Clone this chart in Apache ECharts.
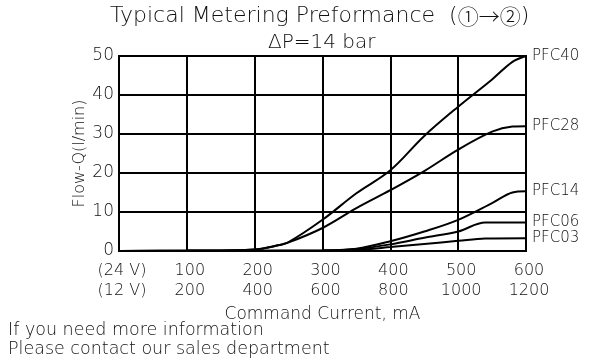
<!DOCTYPE html>
<html><head><meta charset="utf-8">
<script src="https://cdn.jsdelivr.net/npm/echarts@6/dist/echarts.min.js"></script>
<style>html,body{margin:0;padding:0;background:#fff}#c{width:600px;height:363px}</style>
</head><body><div id="c"></div>
<script>
var seriesNames = ['PFC40','PFC28','PFC14','PFC06','PFC03'];
var pfc40 = [[0,0],[100,0.1],[200,0.4],[230,1.3],[250,2.3],[300,8],[350,14.8],[400,20.7],[450,29.5],[500,37],[550,44],[580,48.5],[600,50]];
var pfc28 = [[0,0],[100,0.1],[200,0.4],[230,1.3],[250,2.2],[300,5.9],[350,11],[400,15.6],[450,20.5],[500,26],[550,30.6],[580,31.9],[600,32]];
var pfc14 = [[0,0],[300,0.1],[350,0.6],[400,2.5],[450,5],[500,8],[550,12.3],[580,15],[600,15.3]];
var pfc06 = [[0,0],[300,0.1],[350,0.5],[400,1.7],[450,3.4],[500,5],[540,7.3],[600,7.3]];
var pfc03 = [[0,0],[300,0.1],[350,0.3],[400,1],[450,1.8],[500,2.6],[540,3.2],[600,3.3]];
var xTicks24 = ['(24 V)','100','200','300','400','500','600'];
var xTicks12 = ['(12 V)','200','400','600','800','1000','1200'];
var yTicks = [0,10,20,30,40,50];

var FONT = '"DejaVu Sans"';
var W = 300;
var TXT = '#111';
var allData = [pfc40,pfc28,pfc14,pfc06,pfc03];
var chart = echarts.init(document.getElementById('c'));
chart.setOption({
  animation:false,
  textStyle:{fontFamily:FONT},
  grid:{left:119,right:74,top:56,bottom:112,show:true,borderColor:'#000',borderWidth:2,backgroundColor:'transparent'},
  xAxis:{type:'value',min:0,max:600,interval:100,
    axisLine:{show:true,lineStyle:{color:'#000',width:2}},
    axisTick:{show:false},
    splitLine:{show:true,lineStyle:{color:'#000',width:2}},
    axisLabel:{color:TXT,fontSize:16,fontFamily:FONT,fontWeight:W,lineHeight:20,margin:10,padding:[0,0,0,6],
      formatter:function(v){var i=Math.round(v/100);return xTicks24[i]+'\n'+xTicks12[i];}},
    name:'Command Current, mA',nameLocation:'middle',nameGap:45,
    nameTextStyle:{color:TXT,fontSize:17,fontFamily:FONT,fontWeight:W}
  },
  yAxis:{type:'value',min:0,max:50,interval:10,
    axisLine:{show:true,lineStyle:{color:'#000',width:2}},
    axisTick:{show:false},
    splitLine:{show:true,lineStyle:{color:'#000',width:2}},
    axisLabel:{color:TXT,fontSize:17,fontFamily:FONT,fontWeight:W,margin:5,
      formatter:function(v){return yTicks.indexOf(v)>=0?String(v):'';}},
    name:'Flow-Q(l/min)',nameLocation:'middle',nameGap:31,nameMoveOverlap:false,
    nameTextStyle:{color:TXT,fontSize:16,fontFamily:FONT,fontWeight:W}
  },
  series: seriesNames.map(function(n,i){
    return {name:n,type:'line',data:allData[i],smooth:0.35,showSymbol:false,symbol:'none',
      lineStyle:{color:'#000',width:2},
      endLabel:{show:true,formatter:'{a}',color:TXT,fontSize:15,fontFamily:FONT,fontWeight:W,distance:6}};
  }),
  graphic:[
    {type:'text',left:110,top:5,style:{
      text:'Typical Metering Preformance  ({c|\u2460}{c|\u2192}{c|\u2461})',
      font:W+' 22px '+FONT,fill:TXT,
      rich:{c:{fontFamily:'"Noto Sans CJK SC"',fontSize:21,fontWeight:300,fill:TXT}}}},
    {type:'text',left:268,top:33,style:{text:'\u0394P=14 bar',font:W+' 20px '+FONT,fill:TXT}},
    {type:'text',left:8,top:321,style:{text:'If you need more information',font:W+' 17.5px '+FONT,fill:TXT}},
    {type:'text',left:8,top:340,style:{text:'Please contact our sales department',font:W+' 17.5px '+FONT,fill:TXT}}
  ]
});
</script></body></html>
